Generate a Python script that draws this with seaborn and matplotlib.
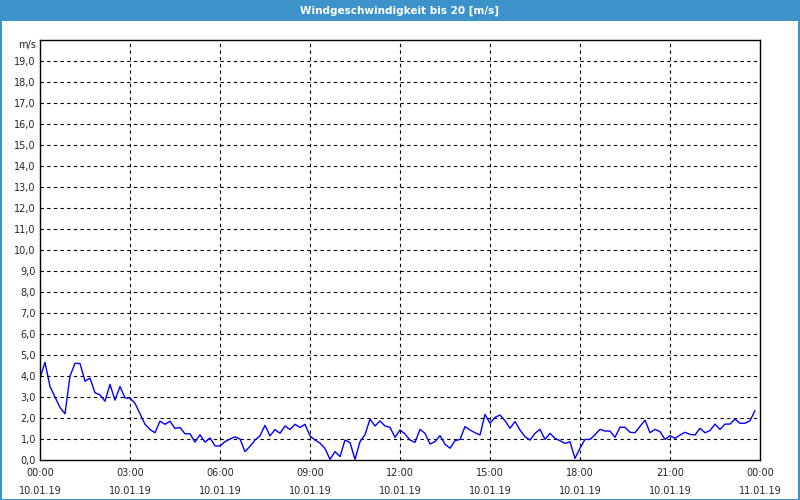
import matplotlib
matplotlib.use("Agg")
import matplotlib.pyplot as plt
import seaborn as sns
import pandas as pd
from matplotlib.patches import Rectangle

times = ["00:00","00:10","00:20","00:30","00:40","00:50","01:00","01:10","01:20","01:30","01:40","01:50",
         "02:00","02:10","02:20","02:30","02:40","02:50","03:00","03:10","03:20","03:30","03:40","03:50",
         "04:00","04:10","04:20","04:30","04:40","04:50","05:00","05:10","05:20","05:30","05:40","05:50",
         "06:00","06:10","06:20","06:30","06:40","06:50","07:00","07:10","07:20","07:30","07:40","07:50",
         "08:00","08:10","08:20","08:30","08:40","08:50","09:00","09:10","09:20","09:30","09:40","09:50",
         "10:00","10:10","10:20","10:30","10:40","10:50","11:00","11:10","11:20","11:30","11:40","11:50",
         "12:00","12:10","12:20","12:30","12:40","12:50","13:00","13:10","13:20","13:30","13:40","13:50",
         "14:00","14:10","14:20","14:30","14:40","14:50","15:00","15:10","15:20","15:30","15:40","15:50",
         "16:00","16:10","16:20","16:30","16:40","16:50","17:00","17:10","17:20","17:30","17:40","17:50",
         "18:00","18:10","18:20","18:30","18:40","18:50","19:00","19:10","19:20","19:30","19:40","19:50",
         "20:00","20:10","20:20","20:30","20:40","20:50","21:00","21:10","21:20","21:30","21:40","21:50",
         "22:00","22:10","22:20","22:30","22:40","22:50","23:00","23:10","23:20","23:30","23:40","23:50"]

wind = [3.9, 4.65, 3.5, 3.0, 2.5, 2.2, 4.0, 4.6, 4.6, 3.75, 3.9, 3.2,
        3.1, 2.8, 3.6, 2.85, 3.5, 2.95, 2.95, 2.7, 2.2, 1.7, 1.45, 1.3,
        1.85, 1.7, 1.85, 1.5, 1.55, 1.25, 1.25, 0.85, 1.2, 0.85, 1.05, 0.67,
        0.67, 0.87, 1.0, 1.1, 1.0, 0.4, 0.65, 0.95, 1.15, 1.65, 1.15, 1.45,
        1.27, 1.62, 1.45, 1.7, 1.55, 1.7, 1.15, 0.95, 0.8, 0.55, 0.03, 0.4,
        0.16, 0.95, 0.83, 0.03, 0.87, 1.2, 1.95, 1.62, 1.86, 1.62, 1.56, 1.08,
        1.43, 1.24, 0.95, 0.84, 1.46, 1.27, 0.76, 0.87, 1.16, 0.75, 0.56, 0.92,
        0.98, 1.59, 1.43, 1.3, 1.19, 2.17, 1.75, 2.03, 2.14, 1.87, 1.51, 1.83,
        1.43, 1.11, 0.95, 1.27, 1.46, 0.98, 1.27, 1.03, 0.92, 0.79, 0.87, 0.08,
        0.56, 0.98, 0.98, 1.2, 1.46, 1.38, 1.38, 1.08, 1.56, 1.56, 1.32, 1.30,
        1.6, 1.9, 1.3, 1.46, 1.35, 0.98, 1.16, 1.03, 1.19, 1.32, 1.22, 1.19,
        1.51, 1.3, 1.4, 1.71, 1.46, 1.71, 1.71, 1.95, 1.75, 1.75, 1.87, 2.35]

tick_hours = [0, 3, 6, 9, 12, 15, 18, 21, 24]
tick_labels = ["00:00\n10.01.19", "03:00\n10.01.19", "06:00\n10.01.19", "09:00\n10.01.19",
               "12:00\n10.01.19", "15:00\n10.01.19", "18:00\n10.01.19", "21:00\n10.01.19",
               "00:00\n11.01.19"]
title = "Windgeschwindigkeit bis 20 [m/s]"
unit = "m/s"

hours = [int(t[:2]) + int(t[3:]) / 60 for t in times]
df = pd.DataFrame({"hour": hours, "wind": wind})

sns.set_style("white")
plt.rcParams["font.family"] = ["DejaVu Sans"]

W, H = 800, 500
fig = plt.figure(figsize=(8, 5), dpi=100)
fig.patch.set_facecolor("white")

header = "#3d93c9"
fig.patches.append(Rectangle((0, 1 - 21 / H), 1, 21 / H, transform=fig.transFigure,
                             facecolor=header, edgecolor="none", zorder=0))
fig.patches.append(Rectangle((0.5 / W, 0.5 / H), 1 - 1.5 / W, 1 - 1.5 / H, transform=fig.transFigure,
                             facecolor="none", edgecolor=header, linewidth=1.5, zorder=1))
fig.text(0.5, 1 - 10.5 / H, title, color="white", ha="center", va="center",
         fontsize=7.5, fontweight="bold")

ax = fig.add_axes([40 / W, 40 / H, 720 / W, 420 / H])
sns.lineplot(data=df, x="hour", y="wind", ax=ax, color="#0000ff", linewidth=1.0)

ax.set_xlim(0, 24)
ax.set_ylim(0, 20)
ax.set_xlabel("")
ax.set_ylabel("")

ax.set_yticks(range(0, 20))
ax.set_yticklabels([f"{v},0" for v in range(0, 20)], fontsize=7)
ax.set_xticks(tick_hours)
ax.set_xticklabels(tick_labels, fontsize=7, linespacing=2.1)
ax.set_xticks(range(0, 25), minor=True)
ax.tick_params(axis="x", which="both", direction="out", length=3, width=0.8, color="black", pad=2.5)
ax.tick_params(axis="y", which="both", length=0, pad=3)

for v in range(1, 20):
    ax.axhline(v, color="black", linestyle=(0, (3, 3)), linewidth=0.8, zorder=0.5)
for h in tick_hours[1:-1]:
    ax.axvline(h, color="black", linestyle=(0, (3, 3)), linewidth=0.8, zorder=0.5)

for s in ax.spines.values():
    s.set_visible(True)
    s.set_color("black")
    s.set_linewidth(1.0)

fig.text(36 / W, 1 - 45 / H, unit, fontsize=7, ha="right", va="center")

fig.savefig("out.png", dpi=100)
